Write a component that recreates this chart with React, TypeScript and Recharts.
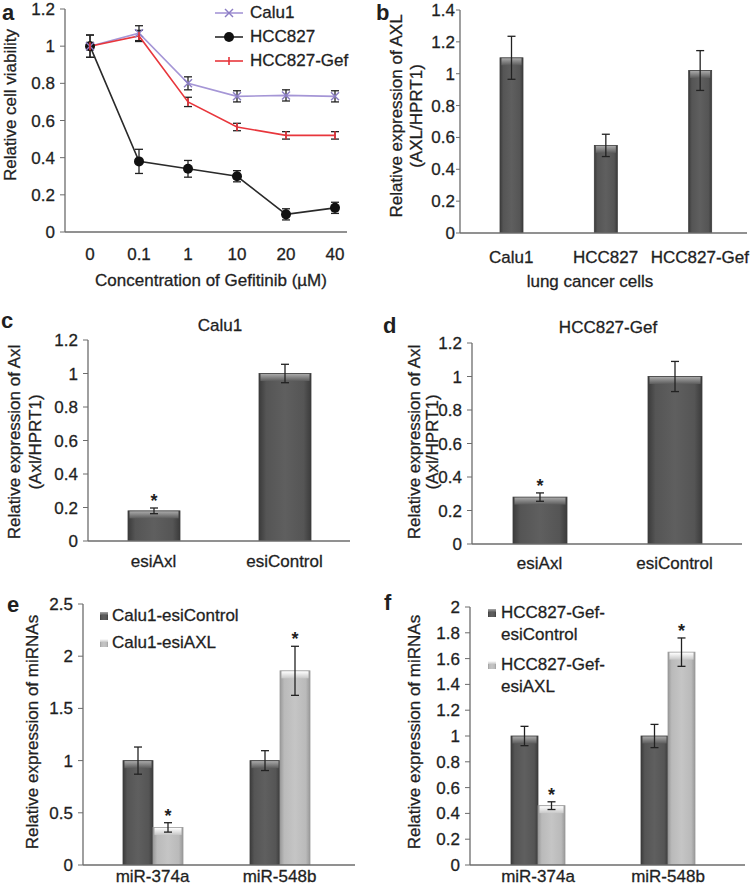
import React from "react";
import {
  LineChart,
  Line,
  BarChart,
  Bar,
  XAxis,
  YAxis,
  ErrorBar,
  Legend,
  LabelList,
} from "recharts";

const FONT = '"Liberation Sans", Arial, Helvetica, sans-serif';
const INK = "#1f1f1f";
const AXIS = "#6c6c6c";

// a: cell viability vs gefitinib concentration
const doses = ["0", "0.1", "1", "10", "20", "40"];
const calu1Viability = [1.0, 1.07, 0.8, 0.73, 0.735, 0.73];
const calu1Sd = [0.06, 0.04, 0.035, 0.03, 0.03, 0.03];
const hcc827Viability = [1.0, 0.38, 0.34, 0.3, 0.095, 0.13];
const hcc827Sd = [0.06, 0.065, 0.045, 0.03, 0.03, 0.03];
const gefViability = [1.0, 1.055, 0.7, 0.565, 0.52, 0.52];
const gefSd = [0.02, 0.03, 0.025, 0.02, 0.02, 0.02];
const viabilityTicks = [0, 0.2, 0.4, 0.6, 0.8, 1, 1.2];

// b: AXL expression by cell line
const cellLines = ["Calu1", "HCC827", "HCC827-Gef"];
const axlLevel = [1.1, 0.55, 1.02];
const axlSd = [0.135, 0.07, 0.125];
const axlTicks = [0, 0.2, 0.4, 0.6, 0.8, 1, 1.2, 1.4];

// c, d: Axl knockdown
const knockdown = ["esiAxl", "esiControl"];
const calu1Axl = [0.18, 1.0];
const calu1AxlSd = [0.017, 0.055];
const gefAxl = [0.28, 1.0];
const gefAxlSd = [0.025, 0.09];
const knockdownSig = [true, false];
const knockdownTicks = [0, 0.2, 0.4, 0.6, 0.8, 1, 1.2];

// e, f: miRNA expression
const mirnas = ["miR-374a", "miR-548b"];
const calu1Ctrl = [1.0, 1.0];
const calu1CtrlSd = [0.13, 0.095];
const calu1Esi = [0.36, 1.86];
const calu1EsiSd = [0.045, 0.235];
const calu1MirTicks = [0, 0.5, 1, 1.5, 2, 2.5];
const gefCtrl = [1.0, 1.0];
const gefCtrlSd = [0.075, 0.09];
const gefEsi = [0.46, 1.65];
const gefEsiSd = [0.03, 0.11];
const gefMirTicks = [0, 0.2, 0.4, 0.6, 0.8, 1, 1.2, 1.4, 1.6, 1.8, 2];
const ctrlSig = [false, false];
const esiSig = [true, true];

const doseData = doses.map((dose, i) => ({
  dose,
  calu1: calu1Viability[i],
  calu1Sd: calu1Sd[i],
  hcc827: hcc827Viability[i],
  hcc827Sd: hcc827Sd[i],
  gef: gefViability[i],
  gefSd: gefSd[i],
}));
const axlData = cellLines.map((name, i) => ({ name, value: axlLevel[i], sd: axlSd[i] }));
const calu1KdData = knockdown.map((name, i) => ({ name, value: calu1Axl[i], sd: calu1AxlSd[i] }));
const gefKdData = knockdown.map((name, i) => ({ name, value: gefAxl[i], sd: gefAxlSd[i] }));
const calu1MirData = mirnas.map((name, i) => ({
  name, ctrl: calu1Ctrl[i], ctrlSd: calu1CtrlSd[i], esi: calu1Esi[i], esiSd: calu1EsiSd[i],
}));
const gefMirData = mirnas.map((name, i) => ({
  name, ctrl: gefCtrl[i], ctrlSd: gefCtrlSd[i], esi: gefEsi[i], esiSd: gefEsiSd[i],
}));

// slight stroke so the text carries the weight of the scanned figure
const tickStyle = { fill: INK, fontSize: 17, fontFamily: FONT, stroke: INK, strokeWidth: 0.3 };

// rotated y-axis title, one or two lines
const VText = ({ lines, xs, cy, size = 17 }: { lines: string[]; xs: number[]; cy: number; size?: number }) => (
  <g>
    {lines.map((t, i) => (
      <text
        key={t}
        x={xs[i]}
        y={cy}
        transform={`rotate(-90 ${xs[i]} ${cy})`}
        textAnchor="middle"
        dominantBaseline="central"
        fontSize={size}
        fontFamily={FONT}
        fill={INK}
        stroke={INK}
        strokeWidth={0.3}
      >
        {t}
      </text>
    ))}
  </g>
);

const HText = ({ text, x, y }: { text: string; x: number; y: number }) => (
  <text x={x} y={y} textAnchor="middle" fontSize={17} fontFamily={FONT} fill={INK} stroke={INK} strokeWidth={0.3}>
    {text}
  </text>
);

// excel-style shaded bar
const GlossyBar = (props: any) => {
  const { x, y, width, height, tone } = props;
  if (!height || height <= 0) return null;
  const light = tone === "light";
  const cap = Math.min(7, height);
  return (
    <g>
      <rect x={x} y={y} width={width} height={height} fill={light ? "url(#lightBody)" : "url(#darkBody)"} stroke={light ? "#9a9a9a" : "#3d3d3d"} strokeWidth={0.8} />
      <rect x={x + 1.5} y={y + 0.5} width={width - 3} height={cap} fill={light ? "url(#lightTop)" : "url(#darkTop)"} />
    </g>
  );
};

// significance star above the error bar
const Star = (p: any) => {
  const vb = p.viewBox || p;
  const idx = p.index;
  if (idx == null || !p.sig[idx]) return null;
  const pxPerUnit = vb.height / p.value;
  const top = vb.y - p.sd[idx] * pxPerUnit;
  return (
    <text x={vb.x + vb.width / 2} y={top - 1} textAnchor="middle" fontSize={18} fontWeight="bold" fontFamily={FONT} fill={INK}>
      *
    </text>
  );
};

const Marker = ({ kind, cx, cy }: { kind: string; cx: number; cy: number }) => {
  if (cx == null || cy == null) return null;
  if (kind === "cross")
    return (
      <g stroke="#8b7dc4" strokeWidth={1.4}>
        <line x1={cx - 4} y1={cy - 4} x2={cx + 4} y2={cy + 4} />
        <line x1={cx - 4} y1={cy + 4} x2={cx + 4} y2={cy - 4} />
      </g>
    );
  if (kind === "dot") return <circle cx={cx} cy={cy} r={5} fill="#111" />;
  return <line x1={cx} y1={cy - 4} x2={cx} y2={cy + 4} stroke="#e5333a" strokeWidth={1.6} />;
};

const lineSeries = [
  { name: "Calu1", color: "#a596d6", kind: "cross" },
  { name: "HCC827", color: "#2a2a2a", kind: "dot" },
  { name: "HCC827-Gef", color: "#e8363c", kind: "tick" },
];

const htmlText: React.CSSProperties = { fontFamily: FONT, fontSize: 17, color: INK, WebkitTextStroke: `0.3px ${INK}` };

const LineLegend = () => (
  <div style={htmlText}>
    {lineSeries.map((s) => (
      <div key={s.name} style={{ display: "flex", alignItems: "center", height: 24 }}>
        <svg width={30} height={12}>
          <line x1={1} y1={6} x2={29} y2={6} stroke={s.color} strokeWidth={1.6} />
          <Marker kind={s.kind} cx={15} cy={6} />
        </svg>
        <span style={{ marginLeft: 6 }}>{s.name}</span>
      </div>
    ))}
  </div>
);

const SwatchLegend = ({ items, lh, gap, swatchGap }: { items: { lines: string[]; tone: string }[]; lh: number; gap: number; swatchGap: number }) => (
  <div style={htmlText}>
    {items.map((it) => (
      <div key={it.lines.join("")} style={{ display: "flex", alignItems: "flex-start", marginBottom: gap }}>
        <svg width={8} height={8} style={{ marginTop: (lh - 8) / 2 }}>
          <rect x={0} y={0} width={8} height={8} fill={it.tone === "light" ? "url(#lightBody)" : "url(#darkBody)"} />
          <rect x={0} y={0} width={8} height={3} fill={it.tone === "light" ? "url(#lightTop)" : "url(#darkTop)"} />
        </svg>
        <div style={{ marginLeft: swatchGap, lineHeight: `${lh}px` }}>
          {it.lines.map((l) => (
            <div key={l}>{l}</div>
          ))}
        </div>
      </div>
    ))}
  </div>
);

const yAxisProps = {
  type: "number" as const,
  allowDataOverflow: true,
  interval: 0 as const,
  tickLine: { stroke: AXIS },
  tickSize: 5,
  tickMargin: 5,
  axisLine: { stroke: AXIS, strokeWidth: 1.3 },
  tick: tickStyle,
};

const xAxisProps = {
  tickLine: false,
  tickSize: 0,
  interval: 0 as const,
  axisLine: { stroke: AXIS, strokeWidth: 1.3 },
  tick: tickStyle,
};

const errProps = { width: 4, stroke: "#222", strokeWidth: 1.3 };

function PanelA() {
  return (
    <LineChart width={375} height={292} data={doseData} margin={{ top: 9, right: 28, bottom: 0, left: 0 }}>
      <XAxis
        dataKey="dose"
        {...xAxisProps}
        height={60}
        tickMargin={16}
        padding={{ left: 25, right: 12 }}
        label={() => <HText text="Concentration of Gefitinib (µM)" x={211} y={286} />}
      />
      <YAxis
        {...yAxisProps}
        width={65}
        domain={[0, 1.2]}
        ticks={viabilityTicks}
        label={() => <VText lines={["Relative cell viability"]} xs={[10]} cy={105} />}
      />
      <Legend
        content={<LineLegend />}
        layout="horizontal"
        verticalAlign="middle"
        align="center"
        wrapperStyle={{ top: 1, left: 214, width: 160, height: 72 }}
      />
      <Line dataKey="hcc827" stroke="#2a2a2a" strokeWidth={1.6} isAnimationActive={false} activeDot={false}
        dot={(p: any) => <Marker key={`h${p.index}`} kind="dot" cx={p.cx} cy={p.cy} />}>
        <ErrorBar dataKey="hcc827Sd" {...errProps} />
      </Line>
      <Line dataKey="calu1" stroke="#a596d6" strokeWidth={1.6} isAnimationActive={false} activeDot={false}
        dot={(p: any) => <Marker key={`c${p.index}`} kind="cross" cx={p.cx} cy={p.cy} />}>
        <ErrorBar dataKey="calu1Sd" {...errProps} />
      </Line>
      <Line dataKey="gef" stroke="#e8363c" strokeWidth={1.6} isAnimationActive={false} activeDot={false}
        dot={(p: any) => <Marker key={`g${p.index}`} kind="tick" cx={p.cx} cy={p.cy} />}>
        <ErrorBar dataKey="gefSd" {...errProps} />
      </Line>
    </LineChart>
  );
}

function PanelB() {
  return (
    <BarChart width={376} height={292} data={axlData} margin={{ top: 10, right: 4, bottom: 0, left: 0 }}>
      <XAxis
        dataKey="name"
        {...xAxisProps}
        height={59}
        tickMargin={18}
        padding={{ left: 4, right: 0 }}
        label={() => <HText text="lung cancer cells" x={215} y={287} />}
      />
      <YAxis
        {...yAxisProps}
        width={85}
        tickSize={4}
        tickMargin={1}
        domain={[0, 1.4]}
        ticks={axlTicks}
        label={() => <VText lines={["Relative expression of AXL", "(AXL/HPRT1)"]} xs={[21, 41]} cy={116} />}
      />
      <Bar dataKey="value" barSize={23} isAnimationActive={false} shape={(p: any) => <GlossyBar {...p} tone="dark" />}>
        <ErrorBar dataKey="sd" {...errProps} />
      </Bar>
    </BarChart>
  );
}

function KnockdownPanel({ data, sd, left, yw, top, right, tickMargin, barSize, xs }: any) {
  return (
    <BarChart width={left ? 376 : 375} height={300} data={data} margin={{ top, right, bottom: 0, left: 0 }}>
      <XAxis dataKey="name" {...xAxisProps} height={300 - top - 201} tickMargin={tickMargin} />
      <YAxis
        {...yAxisProps}
        width={yw}
        domain={[0, 1.2]}
        ticks={knockdownTicks}
        label={() => <VText lines={["Relative expression of Axl", "(Axl/HPRT1)"]} xs={xs} cy={152} />}
      />
      <Bar dataKey="value" barSize={barSize} isAnimationActive={false} shape={(p: any) => <GlossyBar {...p} tone="dark" />}>
        <ErrorBar dataKey="sd" {...errProps} />
        <LabelList dataKey="value" content={(p: any) => <Star key={`s${p.index}`} {...p} sd={sd} sig={knockdownSig} />} />
      </Bar>
    </BarChart>
  );
}

function MirnaPanel({ data, width, yw, top, right, padding, barSize, ticks, max, ctrlSd, esiSd, legend, xs }: any) {
  return (
    <BarChart width={width} height={312} data={data} barGap={0} margin={{ top, right, bottom: 0, left: 0 }}>
      <XAxis dataKey="name" {...xAxisProps} height={27} tickMargin={5} padding={padding} />
      <YAxis
        {...yAxisProps}
        width={yw}
        domain={[0, max]}
        ticks={ticks}
        label={() => <VText lines={["Relative expression of miRNAs"]} xs={xs} cy={152} />}
      />
      {legend}
      <Bar dataKey="ctrl" barSize={barSize} isAnimationActive={false} shape={(p: any) => <GlossyBar {...p} tone="dark" />}>
        <ErrorBar dataKey="ctrlSd" {...errProps} />
        <LabelList dataKey="ctrl" content={(p: any) => <Star key={`a${p.index}`} {...p} sd={ctrlSd} sig={ctrlSig} />} />
      </Bar>
      <Bar dataKey="esi" barSize={barSize} isAnimationActive={false} shape={(p: any) => <GlossyBar {...p} tone="light" />}>
        <ErrorBar dataKey="esiSd" {...errProps} />
        <LabelList dataKey="esi" content={(p: any) => <Star key={`b${p.index}`} {...p} sd={esiSd} sig={esiSig} />} />
      </Bar>
    </BarChart>
  );
}

const place = (left: number, top: number): React.CSSProperties => ({ position: "absolute", left, top });

export default function App() {
  return (
    <div style={{ position: "absolute", left: 0, top: 0, width: 751, height: 892, background: "#fff", fontFamily: FONT, overflow: "hidden" }}>
      <svg width={0} height={0} style={{ position: "absolute" }}>
        <defs>
          <linearGradient id="darkBody" x1="0" y1="0" x2="1" y2="0">
            <stop offset="0" stopColor="#3b3b3b" />
            <stop offset="0.14" stopColor="#555" />
            <stop offset="0.5" stopColor="#5f5f5f" />
            <stop offset="0.86" stopColor="#555" />
            <stop offset="1" stopColor="#3b3b3b" />
          </linearGradient>
          <linearGradient id="darkTop" x1="0" y1="0" x2="0" y2="1">
            <stop offset="0" stopColor="#a9a9a9" />
            <stop offset="1" stopColor="#5c5c5c" />
          </linearGradient>
          <linearGradient id="lightBody" x1="0" y1="0" x2="1" y2="0">
            <stop offset="0" stopColor="#999" />
            <stop offset="0.14" stopColor="#bababa" />
            <stop offset="0.5" stopColor="#c5c5c5" />
            <stop offset="0.86" stopColor="#bababa" />
            <stop offset="1" stopColor="#999" />
          </linearGradient>
          <linearGradient id="lightTop" x1="0" y1="0" x2="0" y2="1">
            <stop offset="0" stopColor="#ffffff" />
            <stop offset="1" stopColor="#c8c8c8" />
          </linearGradient>
        </defs>
      </svg>

      <div style={place(0, 0)}><PanelA /></div>
      <div style={place(375, 0)}><PanelB /></div>
      <div style={place(0, 290)}>
        <KnockdownPanel data={calu1KdData} sd={calu1AxlSd} yw={88} top={50} right={25} tickMargin={14} barSize={52} xs={[14, 35]} />
      </div>
      <div style={place(375, 290)}>
        <KnockdownPanel data={gefKdData} sd={gefAxlSd} left yw={97} top={53} right={9} tickMargin={13} barSize={54} xs={[39, 57]} />
      </div>
      <div style={place(0, 580)}>
        <MirnaPanel
          data={calu1MirData}
          width={375}
          yw={83}
          top={24}
          right={20}
          padding={{ left: 6, right: 12 }}
          barSize={30}
          ticks={calu1MirTicks}
          max={2.5}
          ctrlSd={calu1CtrlSd}
          esiSd={calu1EsiSd}
          xs={[32]}
          legend={
            <Legend
              layout="horizontal"
              verticalAlign="middle"
              align="center"
              wrapperStyle={{ top: 22, left: 100, width: 200, height: 60 }}
              content={<SwatchLegend lh={27} gap={0} swatchGap={4} items={[{ lines: ["Calu1-esiControl"], tone: "dark" }, { lines: ["Calu1-esiAXL"], tone: "light" }]} />}
            />
          }
        />
      </div>
      <div style={place(375, 580)}>
        <MirnaPanel
          data={gefMirData}
          width={376}
          yw={95}
          top={27}
          right={6}
          padding={{ left: 3, right: 12 }}
          barSize={27}
          ticks={gefMirTicks}
          max={2}
          ctrlSd={gefCtrlSd}
          esiSd={gefEsiSd}
          xs={[39]}
          legend={
            <Legend
              layout="horizontal"
              verticalAlign="middle"
              align="center"
              wrapperStyle={{ top: 22, left: 113, width: 200, height: 100 }}
              content={<SwatchLegend lh={22} gap={8} swatchGap={5} items={[{ lines: ["HCC827-Gef-", "esiControl"], tone: "dark" }, { lines: ["HCC827-Gef-", "esiAXL"], tone: "light" }]} />}
            />
          }
        />
      </div>

      <svg width={751} height={892} style={{ position: "absolute", left: 0, top: 0, pointerEvents: "none" }}>
        <g fontFamily={FONT} fontWeight="bold" fontSize={22} fill={INK}>
          <text x={2} y={20}>a</text>
          <text x={376} y={20}>b</text>
          <text x={1} y={328}>c</text>
          <text x={383} y={333}>d</text>
          <text x={7} y={612}>e</text>
          <text x={384} y={610}>f</text>
        </g>
        <g fontFamily={FONT} fontSize={17} fill={INK} stroke={INK} strokeWidth={0.3} textAnchor="middle">
          <text x={220} y={331}>Calu1</text>
          <text x={608} y={333}>HCC827-Gef</text>
        </g>
      </svg>
    </div>
  );
}
